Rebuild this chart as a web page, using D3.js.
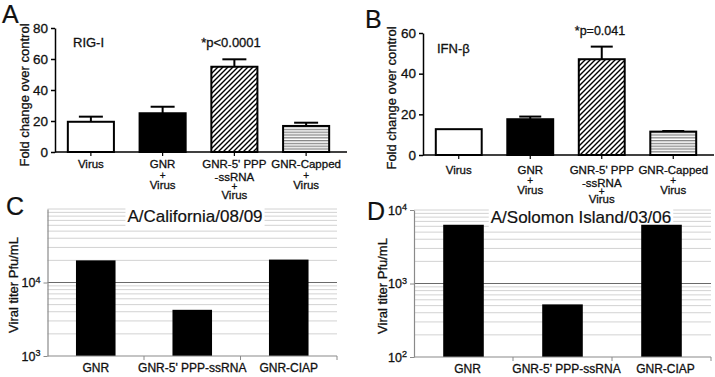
<!DOCTYPE html>
<html>
<head>
<meta charset="utf-8">
<script src="https://d3js.org/d3.v7.min.js"></script>
<style>
  body { margin: 0; background: #fff; }
  svg { display: block; font-family: "Liberation Sans", Arial, sans-serif; }
  svg text { stroke: #111; stroke-width: 0.3px; }
</style>
</head>
<body>
<div id="chart"></div>
<script>
// A / B : fold change over control
const foldCategories = [
  ["Virus"],
  ["GNR", "+", "Virus"],
  ["GNR-5' PPP", "-ssRNA", "+", "Virus"],
  ["GNR-Capped", "+", "Virus"]
];
const rigMeans = [19.5, 25, 55, 16.8];
const rigSem = [3.3, 4.2, 4.8, 2.1];
const ifnMeans = [12.7, 17.6, 47.1, 11.5];
const ifnSem = [0, 1.3, 6.2, 0.3];
const rigTicks = [0, 20, 40, 60, 80];
const ifnTicks = [0, 20, 40, 60];

// C / D : viral titer
const titerCategories = ["GNR", "GNR-5' PPP-ssRNA", "GNR-CIAP"];
const californiaTiter = [20000, 4250, 20500];
const solomonTiter = [6300, 520, 6300];
const californiaTicks = [1e3, 1e4];
const solomonTicks = [1e2, 1e3, 1e4];

const barFills = ["white", "black", "url(#hatch)", "url(#stripes)"];

const svg = d3.select("#chart").append("svg")
    .attr("width", 715)
    .attr("height", 377);
svg.append("rect").attr("width", 715).attr("height", 377).attr("fill", "white");

// fill patterns
const defs = svg.append("defs");
const s = 5;
const hatch = defs.append("pattern").attr("id", "hatch")
    .attr("patternUnits", "userSpaceOnUse").attr("width", s).attr("height", s);
hatch.append("rect").attr("width", s).attr("height", s).attr("fill", "white");
hatch.append("path")
    .attr("d", `M${-s/4},${s/4} l${s/2},${-s/2} M0,${s} l${s},${-s} M${s*3/4},${s*5/4} l${s/2},${-s/2}`)
    .attr("stroke", "#000").attr("stroke-width", 1.4);
const stripes = defs.append("pattern").attr("id", "stripes")
    .attr("patternUnits", "userSpaceOnUse").attr("width", 4).attr("height", 2.8);
stripes.append("rect").attr("width", 4).attr("height", 2.8).attr("fill", "white");
stripes.append("rect").attr("width", 4).attr("height", 1.3).attr("fill", "#858585");

function letter(txt, x, y) {
    svg.append("text").attr("x", x).attr("y", y)
        .attr("font-size", 25).attr("fill", "#111").style("stroke-width", "0.2px").text(txt);
}

function foldPanel(cfg) {
    const g = svg.append("g");
    const names = foldCategories.map(c => c.join(" "));
    const x = d3.scaleBand().domain(names).range(cfg.xRange)
        .paddingInner(0.33).paddingOuter(0.165);
    const y = d3.scaleLinear().domain([0, d3.max(cfg.ticks)]).range(cfg.yRange);

    // bars
    g.selectAll(".bar").data(cfg.means).join("rect")
        .attr("x", (d, i) => x(names[i]) + 1)
        .attr("y", d => y(d))
        .attr("width", x.bandwidth() - 2)
        .attr("height", d => y(0) - y(d))
        .attr("fill", (d, i) => barFills[i])
        .attr("stroke", "#000").attr("stroke-width", 2);

    // error bars (upper only)
    cfg.means.forEach((m, i) => {
        if (!cfg.sem[i]) return;
        const cx = x(names[i]) + x.bandwidth() / 2;
        g.append("line").attr("x1", cx).attr("x2", cx)
            .attr("y1", y(m)).attr("y2", y(m + cfg.sem[i]))
            .attr("stroke", "#000").attr("stroke-width", 2);
        g.append("line").attr("x1", cx - cfg.capW / 2).attr("x2", cx + cfg.capW / 2)
            .attr("y1", y(m + cfg.sem[i])).attr("y2", y(m + cfg.sem[i]))
            .attr("stroke", "#000").attr("stroke-width", 2);
    });

    // y axis
    const ya = g.append("g").attr("transform", `translate(${cfg.xRange[0]},0)`)
        .call(d3.axisLeft(y).tickValues(cfg.ticks).tickSize(4).tickSizeOuter(0).tickPadding(3));
    ya.select(".domain").attr("stroke", "#000").attr("stroke-width", 1.5);
    ya.selectAll(".tick line").attr("stroke", "#000").attr("stroke-width", 1.5);
    ya.selectAll(".tick text").attr("font-size", 13.5).attr("fill", "#111")
        .attr("font-family", "Liberation Sans, Arial, sans-serif");

    // x axis
    const xa = g.append("g").attr("transform", `translate(0,${y(0)})`)
        .call(d3.axisBottom(x).tickSize(4).tickSizeOuter(0).tickFormat(""));
    xa.select(".domain").remove();
    xa.selectAll(".tick line").attr("stroke", "#000").attr("stroke-width", 1.2);
    g.append("line").attr("x1", cfg.xRange[0]).attr("x2", cfg.xRange[1] + 5)
        .attr("y1", y(0)).attr("y2", y(0))
        .attr("stroke", "#000").attr("stroke-width", 1.5);

    foldCategories.forEach((lines, i) => {
        const offs = lines.length === 4 ? cfg.off4 : cfg.off3;
        const t = g.append("text").attr("text-anchor", "middle")
            .attr("font-size", 11.5).attr("fill", "#111");
        lines.forEach((ln, j) => {
            t.append("tspan").attr("x", x(names[i]) + x.bandwidth() / 2)
                .attr("y", y(0) + cfg.labelDy + (lines.length === 1 ? 0 : offs[j]))
                .attr("font-size", ln === "+" ? 10 : null)
                .text(ln);
        });
    });

    // axis title
    g.append("text")
        .attr("transform", `translate(${cfg.titleX},${cfg.titleY}) rotate(-90)`)
        .attr("text-anchor", "middle").attr("dominant-baseline", "central")
        .attr("font-size", 13).attr("fill", "#111")
        .text("Fold change over control");

    g.append("text").attr("x", cfg.gene[1]).attr("y", cfg.gene[2])
        .attr("font-size", 13).attr("fill", "#111").text(cfg.gene[0]);
    g.append("text").attr("x", cfg.pval[1]).attr("y", cfg.pval[2])
        .attr("text-anchor", "middle").attr("font-size", cfg.pval[3])
        .attr("fill", "#111").text(cfg.pval[0]);
}

function titerPanel(cfg) {
    const g = svg.append("g");
    const x = d3.scaleBand().domain(titerCategories).range(cfg.xRange)
        .paddingInner(0.59).paddingOuter(0.295);
    const y = d3.scaleLog().domain(cfg.domain).range(cfg.yRange);
    const x0 = cfg.xRange[0], x1 = cfg.xRange[1];
    const lo = cfg.domain[0], hi = cfg.domain[1];

    // grid
    const isDecade = v => Math.abs(Math.log10(v) - Math.round(Math.log10(v))) < 1e-9;
    const grid = y.ticks().filter(v => v > lo);
    g.selectAll(".grid").data(grid).join("line")
        .attr("x1", x0).attr("x2", x1)
        .attr("y1", d => y(d)).attr("y2", d => y(d))
        .attr("stroke", d => (isDecade(d) && d < hi) ? "#6a6a6a" : "#d2d2d2")
        .attr("stroke-width", d => (isDecade(d) && d < hi) ? 1.2 : 1);

    // title with white box
    const title = g.append("text").attr("x", cfg.titleX).attr("y", cfg.titleY)
        .attr("text-anchor", "middle").attr("font-size", 17).attr("fill", "#111")
        .style("stroke-width", "0.2px")
        .text(cfg.title);
    const bb = title.node().getBBox();
    g.insert("rect", "text").attr("x", bb.x - 2).attr("y", bb.y)
        .attr("width", bb.width + 4).attr("height", bb.height + 1).attr("fill", "white");

    // bars
    g.selectAll(".bar").data(cfg.values).join("rect")
        .attr("x", (d, i) => x(titerCategories[i]))
        .attr("y", d => y(d))
        .attr("width", x.bandwidth())
        .attr("height", d => y(lo) - y(d))
        .attr("fill", "#000");

    // y axis
    const ya = g.append("g").attr("transform", `translate(${x0},0)`)
        .call(d3.axisLeft(y).tickValues(cfg.ticks).tickSize(4).tickSizeOuter(0).tickPadding(3));
    ya.select(".domain").attr("stroke", "#8a8a8a").attr("stroke-width", 1.2);
    ya.selectAll(".tick line").attr("stroke", "#8a8a8a");
    ya.selectAll(".tick text").each(function(d) {
        const t = d3.select(this).text("")
            .attr("font-size", 12.5).attr("fill", "#111")
            .attr("font-family", "Liberation Sans, Arial, sans-serif");
        t.append("tspan").text("10");
        t.append("tspan").attr("dy", "-0.45em").attr("font-size", 9)
            .text(Math.round(Math.log10(d)));
    });

    // x axis with ticks at category boundaries
    g.append("line").attr("x1", x0).attr("x2", x1)
        .attr("y1", y(lo)).attr("y2", y(lo))
        .attr("stroke", "#8a8a8a").attr("stroke-width", 1.2);
    g.selectAll(".xtick").data(titerCategories).join("line")
        .attr("x1", d => x(d) + x.bandwidth() / 2 + x.step() / 2)
        .attr("x2", d => x(d) + x.bandwidth() / 2 + x.step() / 2)
        .attr("y1", y(lo)).attr("y2", y(lo) + 4)
        .attr("stroke", "#8a8a8a");
    g.selectAll(".xlab").data(titerCategories).join("text")
        .attr("x", d => x(d) + x.bandwidth() / 2 + cfg.labelDx)
        .attr("y", y(lo) + 16)
        .attr("text-anchor", "middle").attr("font-size", 12).attr("fill", "#111")
        .text(d => d);

    g.append("text")
        .attr("transform", `translate(${cfg.yTitleX},${cfg.yTitleY}) rotate(-90)`)
        .attr("text-anchor", "middle").attr("dominant-baseline", "central")
        .attr("font-size", 13).attr("fill", "#111")
        .text("Viral titer Pfu/mL");
}

foldPanel({
    xRange: [55, 342], yRange: [152, 28], ticks: rigTicks,
    means: rigMeans, sem: rigSem, capW: 24,
    labelDy: 16, off3: [0, 10.5, 21], off4: [0, 12.5, 21.5, 31],
    titleX: 24, titleY: 95,
    gene: ["RIG-I", 73, 47], pval: ["*p<0.0001", 231, 47, 13]
});
foldPanel({
    xRange: [423, 709], yRange: [155, 33], ticks: ifnTicks,
    means: ifnMeans, sem: ifnSem, capW: 22,
    labelDy: 19, off3: [0, 10, 19.5], off4: [0, 12.5, 20.5, 28.5],
    titleX: 391, titleY: 98,
    gene: ["IFN-\u03b2", 437, 53], pval: ["*p=0.041", 600, 35, 12.5]
});
titerPanel({
    xRange: [47.5, 337], domain: [1e3, 1e5], yRange: [356, 209],
    values: californiaTiter, ticks: californiaTicks,
    title: "A/California/08/09", titleX: 195, titleY: 222,
    labelDx: 0, yTitleX: 13, yTitleY: 285
});
titerPanel({
    xRange: [414, 711], domain: [1e2, 1e4], yRange: [357, 210],
    values: solomonTiter, ticks: solomonTicks,
    title: "A/Solomon Island/03/06", titleX: 581, titleY: 223,
    labelDx: 4, yTitleX: 382, yTitleY: 286
});

letter("A", 2, 23);
letter("B", 365, 28);
letter("C", 6, 215);
letter("D", 367, 220);
</script>
</body>
</html>
